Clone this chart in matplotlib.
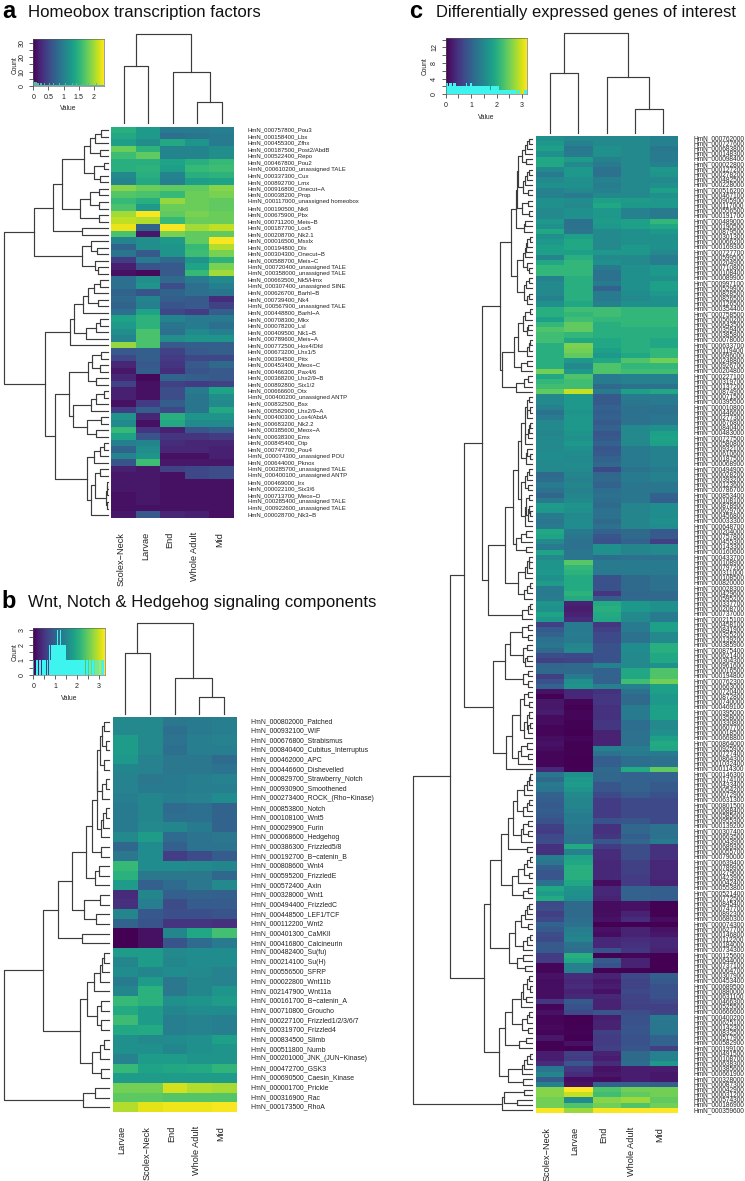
import numpy as np
import matplotlib
matplotlib.use('Agg')
import matplotlib.pyplot as plt

plt.rcParams['font.family'] = ['Liberation Sans', 'DejaVu Sans']

W, H = 745, 1181

# panel a
a_cols = ['Scolex-Neck', 'Larvae', 'End', 'Whole Adult', 'Mid']
a_labels = ['000757800_Pou3', '000158400_Lbx', '000455300_Zfhx', '000187500_Post2/AbdB', '000522400_Repo',
            '000467800_Pou2', '000610200_unassigned TALE', '000337300_Cux', '000892700_Lmx', '000916800_Onecut-A',
            '000038200_Prop', '000117000_unassigned homeobox', '000190500_Nk6', '000675900_Pbx', '000711200_Meis-B',
            '000187700_Lox5', '000208700_Nk2.1', '000016500_Msxlx', '000194800_Dlx', '000304300_Onecut-B',
            '000588700_Meis-C', '000720400_unassigned TALE', '000358000_unassigned TALE', '000663500_Nk5/Hmx',
            '000307400_unassigned SINE', '000626700_Barhl-B', '000739400_Nk4', '000567900_unassigned TALE',
            '000448800_Barhl-A', '000708300_Mkx', '000078200_Lsl', '000409500_Nk1-B', '000789600_Meis-A',
            '000772500_Hox4/Dfd', '000673200_Lhx1/5', '000394500_Pitx', '000453400_Meox-C', '000466300_Pax4/6',
            '000368200_Lhx2/9-B', '000892800_Six1/2', '000666600_Otx', '000400200_unassigned ANTP', '000832500_Bsx',
            '000582900_Lhx2/9-A', '000400300_Lox4/AbdA', '000683200_Nk2.2', '000385600_Meox-A', '000638300_Emx',
            '000845400_Otp', '000747700_Pou4', '000074300_unassigned POU', '000644000_Pknox',
            '000285700_unassigned TALE', '000400100_unassigned ANTP', '000469000_Irx', '000022100_Six3/6',
            '000713700_Meox-D', '000285400_unassigned TALE', '000922600_unassigned TALE', '000028700_Nk3-B']
a_values = [
    [1.45, 1.25, .95, .95, 1.0], [1.4, 1.25, .85, .9, .95], [1.3, 1.15, 1.4, 1.2, .95], [1.8, 1.5, 1.05, 1.05, 1.15],
    [1.6, 1.75, 1.05, 1.05, 1.15], [1.45, 1.45, 1.35, 1.45, 1.55], [1.45, 1.5, 1.3, 1.55, 1.6], [1.1, 1.45, 1.05, 1.45, 1.5],
    [1.05, 1.4, 1.0, 1.3, 1.35], [1.9, 1.8, 1.75, 1.75, 1.9], [1.7, 1.65, 1.55, 1.8, 1.85], [1.55, 1.45, 1.95, 1.8, 1.75],
    [1.65, 1.25, 1.8, 1.8, 1.75], [2.0, 2.3, 1.75, 1.85, 1.8], [2.1, 2.05, 1.55, 1.8, 1.8], [2.25, .75, 2.3, 2.0, 2.1],
    [1.65, .15, 1.85, 1.75, 1.75], [1.05, 1.15, 1.25, 1.75, 2.3], [.75, 1.15, 1.2, 1.55, 2.05], [.9, .65, 1.2, 1.6, 1.85],
    [.4, .95, .8, 1.2, 1.5], [.2, .6, .65, 1.35, 1.85], [.1, .05, .65, 1.55, 2.0], [.85, 1.15, .8, .95, 1.1],
    [.85, 1.2, .55, .85, 1.0], [.75, .6, .75, .85, .9], [.8, 1.05, .7, .65, .3], [.75, 1.0, .6, .65, .45],
    [.85, 1.35, .5, .4, .7], [1.35, 1.5, 1.05, .95, .95], [1.25, 1.5, .9, .95, .85], [1.15, 1.65, .85, 1.1, 1.0],
    [1.05, 1.65, 1.15, 1.2, 1.2], [1.95, 1.65, .65, .7, .7], [.65, .7, .45, .65, .7], [.5, .7, .4, .5, .5],
    [.25, .65, .35, .65, .8], [.15, .7, .3, .6, .65], [.25, .05, .75, .7, .65], [.45, .1, .45, .4, .45],
    [.2, .1, .55, .95, 1.35], [.2, .1, .55, .9, 1.15], [.1, .4, .7, .9, 1.1], [.4, .7, .5, .9, 1.4],
    [1.2, .25, 1.45, 1.2, 1.2], [1.1, .1, 1.4, 1.1, 1.1], [1.55, .35, .2, .6, .7], [1.35, .6, .35, .35, .4],
    [1.0, 1.05, .3, .25, .25], [.75, 1.15, .25, .25, .2], [1.05, 1.2, .1, .1, .2], [.6, 1.6, .15, .15, .15],
    [.2, .15, .45, .5, .55], [.15, .15, .1, .5, .55], [.15, .15, .1, .1, .1], [.15, .15, .1, .1, .1],
    [.1, .15, .1, .1, .1], [.1, .15, .1, .1, .1], [.1, .1, .1, .1, .1], [.15, .65, .25, .2, .1]]
# height at which neighbouring rows join, in order
a_row_gaps = [7, 13, 18, 8, 24, 4, 14, 8, 46, 9, 18, 9, 28, 9, 55, 26, 74, 17, 11, 26, 13, 10, 104,
              8, 14, 20, 10, 25, 34, 8, 12, 22, 38, 63, 7, 16, 8, 20, 12, 39, 4, 12, 17, 35, 7, 21, 12, 53,
              4, 8, 14, 21, 8, 13, 1, 1.5, 2, 1, 17]
a_col_gaps = [57, 89, 51, 21]
a_counts = [4, 3, 3, 2, 2, 1, 2, 2, 1, 1, 2, 1, 1, 1, 2, 1, 1, 1, 2, 1, 1, 1, 1, 2, 1, 1, 1, 1, 1, 2, 1, 1,
            1, 1, 1, 2, 1, 1, 1, 2, 1, 1, 1, 1, 2, 1, 1, 1, 1, 1, 2, 1, 1, 1, 1, 1, 1, 2, 1, 1, 1, 1, 1, 1]

# panel b
b_cols = ['Larvae', 'Scolex-Neck', 'End', 'Whole Adult', 'Mid']
b_labels = ['000802000_Patched', '000932100_WIF', '000676800_Strabismus', '000840400_Cubitus_Interruptus',
            '000462000_APC', '000446600_Dishevelled', '000829700_Strawberry_Notch', '000930900_Smoothened',
            '000273400_ROCK_(Rho-Kinase)', '000853800_Notch', '000108100_Wnt5', '000029900_Furin',
            '000068600_Hedgehog', '000386300_Frizzled5/8', '000192700_B-catenin_B', '000808600_Wnt4',
            '000595200_FrizzledE', '000572400_Axin', '000328000_Wnt1', '000494400_FrizzledC', '000448500_LEF1/TCF',
            '000112200_Wnt2', '000401300_CaMKII', '000416800_Calcineurin', '000482400_Su(fu)', '000214100_Su(H)',
            '000556500_SFRP', '000022800_Wnt11b', '002147900_Wnt11a', '000161700_B-catenin_A', '000710800_Groucho',
            '000227100_Frizzled1/2/3/6/7', '000319700_Frizzled4', '000834500_Slimb', '000511800_Numb',
            '000201000_JNK_(JUN-Kinase)', '000472700_GSK3', '000690500_Caesin_Kinase', '000001700_Prickle',
            '000316900_Rac', '000173500_RhoA']
b_values = [
    [1.55, 1.55, 1.3, 1.35, 1.4], [1.55, 1.55, 1.2, 1.35, 1.4], [1.8, 1.55, 1.25, 1.4, 1.45], [1.8, 1.55, 1.2, 1.4, 1.4],
    [1.75, 1.45, 1.3, 1.3, 1.15], [1.5, 1.45, 1.3, 1.3, 1.25], [1.45, 1.3, 1.35, 1.4, 1.45], [1.45, 1.35, 1.35, 1.4, 1.4],
    [1.4, 1.5, 1.4, 1.45, 1.6], [1.35, 1.5, 1.15, 1.2, 1.05], [1.35, 1.5, 1.2, 1.2, 1.05], [1.35, 1.55, 1.5, 1.35, 1.05],
    [1.55, 1.8, 1.15, 1.25, 1.3], [1.1, 1.6, 1.0, 1.25, 1.25], [1.3, 1.6, .6, .75, .95], [2.2, 1.6, 1.6, 1.55, 1.5],
    [2.1, 1.3, 1.3, 1.3, 1.1], [1.8, 1.0, 1.15, 1.3, 1.55], [.4, 1.5, 1.0, 1.05, 1.0], [.45, 1.4, .75, .95, .95],
    [1.5, .9, .8, .8, .85], [1.05, .85, .5, .5, .45], [0, .15, 1.5, 1.95, 2.3], [0, .15, .85, 1.15, 1.35],
    [1.8, 1.8, 1.55, 1.6, 1.6], [1.5, 1.8, 1.5, 1.6, 1.6], [1.6, 1.5, 1.6, 1.55, 1.45], [1.35, 1.8, 1.3, 1.5, 1.45],
    [1.5, 2.1, 1.3, 1.5, 1.7], [2.2, 2.1, 1.65, 1.7, 1.8], [2.0, 1.8, 1.5, 1.6, 1.6], [2.25, 1.8, 1.4, 1.45, 1.4],
    [1.95, 2.0, 1.4, 1.45, 1.4], [1.65, 1.55, 1.6, 1.65, 1.85], [1.65, 1.65, 1.5, 1.65, 1.7], [1.45, 1.8, 1.8, 1.7, 1.7],
    [2.2, 1.9, 1.95, 2.0, 2.15], [1.8, 1.8, 1.8, 1.8, 1.8], [2.6, 2.6, 3.05, 2.9, 2.85], [2.45, 2.45, 2.4, 2.4, 2.4],
    [2.9, 3.15, 3.2, 3.2, 3.25]]
b_row_gaps = [4.7, 7, 3, 9, 4.7, 11.7, 3, 7.3, 12, 3.3, 5.7, 8, 17.3, 8, 23, 10, 14, 37.3, 9, 25, 13, 50.7, 27.3, 66.3,
              5, 7, 9, 15, 22, 8, 12, 8, 29, 5, 9, 17, 8, 104.7, 14, 26]
b_col_gaps = [60.7, 90.4, 36, 16.4]
b_counts = [1, 0, 1, 1, 0, 1, 1, 0, 1, 1, 1, 0, 1, 0, 2, 1, 2, 2, 2, 2, 2, 3, 2, 2, 3, 2, 2, 2, 2, 1, 1, 1,
            1, 1, 1, 1, 1, 1, 1, 1, 1, 1, 1, 1, 1, 1, 0, 1, 1, 0, 1, 1, 0, 1, 0, 1, 1, 0, 1, 0, 0, 1, 1, 0]

# panel c
c_cols = ['Scolex-Neck', 'Larvae', 'End', 'Whole Adult', 'Mid']
c_labels = ['000762000', '000727600', '000683800', '000148300', '000098400', '000022800', '000127200', '000278200',
            '000482500', '000228000', '000516200', '000467100', '000905900', '000117000', '000556500', '000191700',
            '000489000', '000190500', '000879500', '000301300', '000066200', '000169300', '000727700', '000599500',
            '000204900', '000710800', '000108400', '000089900', '000997100', '000529900', '000828500', '000826500',
            '000126500', '000354400', '000758500', '000560200', '000643500', '000359400', '000385800', '000078000',
            '000633700', '000119400', '000696000', '000248800', '000926700', '000204800', '000227100', '000319700',
            '000137200', '000874900', '000071500', '000395500', '000010800', '000446600', '000277300', '000676800',
            '000840400', '000483000', '000727500', '000580800', '000932100', '000610600', '000187500', '000068900',
            '000494900', '000028200', '000393200', '000123600', '000786700', '000853400', '000108100', '000878900',
            '000629700', '000456800', '000033300', '000648700', '000204000', '000757800', '000455300', '000143300',
            '000160600', '000433700', '000108900', '000797200', '000311000', '000108500', '000820000', '000028300',
            '000429600', '000595200', '000337700', '000208700', '000737000', '000215100', '000458100', '000841900',
            '000355200', '000139200', '000385900', '000875400', '000621400', '000304300', '000961600', '000016500',
            '000194800', '000762300', '000663000', '000720400', '000872800', '000740000', '000469100', '000395000',
            '000358000', '000330800', '000607700', '000018500', '000668800', '000864000', '000925900', '000727400',
            '000864300', '001032400', '000114300', '000146300', '000174100', '000433400', '000054200', '000072900',
            '000631300', '000801500', '000688400', '000585600', '000955300', '000139200', '000307400', '000663500',
            '000043900', '000689300', '000055700', '000790000', '000639400', '000789900', '000279600', '000423900',
            '000042400', '000553800', '000521400', '000772500', '000845400', '000747700', '000892300', '000680300',
            '000074300', '000627700', '000146800', '000112200', '000184000', '000734300', '000125600', '000644000',
            '000737100', '000064700', '000307900', '000453400', '000689500', '000880000', '000631100', '000466300',
            '000525500', '000666600', '000400200', '000625100', '000142300', '000832500', '000517900', '000582900',
            '000199100', '000491500', '000108700', '000638300', '000385600', '000661900', '000328000', '000087300',
            '000042900', '000031200', '000574300', '000186900', '000359600']
c_values = [
    [1.6, 1.5, 1.5, 1.5, 1.4], [1.7, 1.4, 1.5, 1.5, 1.4], [1.8, 1.25, 1.6, 1.5, 1.25], [1.6, 1.3, 1.6, 1.5, 1.3],
    [1.9, 1.75, 1.4, 1.5, 1.3], [1.9, 1.5, 1.3, 1.5, 1.4], [1.5, 1.7, 1.2, 1.5, 1.7], [1.3, 1.7, 1.2, 1.5, 1.65],
    [1.5, 1.6, 1.4, 1.5, 1.5], [1.6, 1.6, 1.35, 1.5, 1.6], [1.4, 1.5, 1.4, 1.5, 1.8], [1.4, 1.3, 1.5, 1.5, 1.6],
    [1.6, 1.55, 1.8, 1.75, 1.7], [1.6, 1.5, 1.9, 1.7, 1.7], [1.5, 1.6, 1.7, 1.4, 1.3], [1.5, 1.6, 1.7, 1.4, 1.3],
    [1.7, 1.2, 1.75, 1.8, 2.1], [1.6, 1.2, 1.7, 1.8, 1.9], [1.9, 1.25, 1.5, 1.6, 1.7], [1.6, 1.8, 1.5, 1.6, 1.6],
    [1.7, 1.9, 1.5, 1.6, 1.6], [1.8, 1.9, 1.5, 1.7, 1.6], [1.8, 1.8, 1.7, 1.7, 1.5], [1.45, 2.0, 1.5, 1.5, 1.35],
    [1.9, 2.1, 1.6, 1.5, 1.35], [2.1, 2.1, 1.3, 1.6, 1.7], [2.1, 2.1, 1.2, 1.6, 1.7], [1.4, 2.0, 1.2, 1.6, 1.6],
    [1.5, 2.0, 1.3, 1.6, 1.8], [1.5, 2.0, 1.0, 1.6, 1.8], [1.5, 2.0, 1.3, 1.55, 1.7], [1.4, 2.0, 1.3, 1.5, 1.6],
    [1.6, 1.9, 1.4, 1.6, 1.6], [2.0, 2.2, 2.2, 2.1, 2.1], [2.0, 2.1, 2.2, 2.1, 2.1], [1.8, 2.2, 2.1, 2.1, 2.1],
    [2.1, 2.4, 2.0, 2.1, 2.1], [2.3, 2.4, 2.0, 2.0, 2.0], [2.2, 2.1, 2.0, 2.0, 2.0], [2.2, 1.9, 1.9, 2.0, 1.9],
    [2.0, 2.55, 1.9, 2.0, 1.9], [2.0, 2.5, 1.8, 2.0, 2.1], [2.0, 2.4, 1.7, 1.9, 2.1], [2.0, 1.7, 1.9, 2.3, 2.5],
    [2.0, 1.5, 2.3, 2.1, 2.1], [2.5, 1.7, 2.3, 2.2, 2.2], [1.9, 2.3, 1.3, 1.4, 1.4], [2.1, 2.2, 1.3, 1.4, 1.4],
    [2.2, 2.2, 1.1, 1.2, 1.2], [2.4, 2.9, 1.3, 1.8, 1.9],
    [1.5, 1.7, .9, 1.3, 1.3], [1.5, 1.7, .9, 1.25, 1.3], [1.4, 1.7, 1.0, 1.2, 1.2], [1.2, 1.65, .95, 1.2, 1.2],
    [1.3, 1.7, 1.0, 1.2, 1.25], [1.5, 1.7, .9, 1.2, 1.25], [1.5, 1.7, 1.0, 1.5, 1.6], [1.45, 1.65, .85, 1.5, 1.8],
    [1.5, 1.6, .9, 1.5, 1.85], [1.5, 1.7, 1.0, 1.5, 1.8], [1.5, 1.6, .85, 1.3, 1.4], [1.55, 1.55, .9, 1.3, 1.4],
    [1.55, 1.5, 1.0, 1.3, 1.4], [1.5, 1.55, 1.1, 1.3, 1.4], [1.5, 1.5, .7, 1.2, 1.3], [1.1, 1.45, 1.05, 1.3, 1.4],
    [1.15, 1.4, 1.1, 1.3, 1.4], [1.3, 1.45, 1.0, 1.25, 1.25], [1.2, 1.4, 1.15, 1.25, 1.25], [1.05, 1.45, 1.2, 1.25, 1.0],
    [1.3, 1.5, 1.15, 1.25, .95], [1.75, 1.65, 1.1, 1.45, 1.55], [1.7, 1.6, 1.2, 1.45, 1.55], [1.3, 1.5, 1.2, 1.45, 1.55],
    [1.25, 1.55, 1.1, 1.45, 1.6], [1.3, 1.55, 1.2, 1.45, 1.55], [1.9, 1.3, 1.0, 1.1, .9], [1.85, 1.25, .85, 1.1, .9],
    [1.5, 1.2, .8, 1.0, .6], [1.3, 1.2, 1.6, 1.45, 1.5], [1.85, 1.25, 1.6, 1.45, 1.5], [1.5, 1.25, 1.15, 1.2, 1.2],
    [1.65, 2.35, 1.3, 1.3, 1.3], [1.65, 2.1, 1.3, 1.3, 1.3], [1.7, 2.05, 1.3, 1.3, 1.3], [1.6, 1.95, .8, 1.1, 1.2],
    [1.75, 1.95, .8, 1.1, 1.2], [1.3, 1.95, .8, 1.1, 1.2], [1.3, 2.05, .5, 1.05, 1.1], [1.35, 1.95, .9, 1.1, 1.1],
    [1.65, .3, 1.95, 1.7, 1.6], [1.6, .25, 2.0, 1.7, 1.6], [1.85, .3, 1.95, 1.5, 1.3], [1.7, .4, 1.9, 1.5, 1.3],
    [.6, 1.3, .5, 1.3, 1.8], [.9, 1.3, .6, 1.3, 1.8], [1.0, 1.35, .7, 1.2, 1.5], [1.2, 1.3, .7, 1.2, 1.5],
    [1.25, 1.45, .8, 1.55, 2.0], [1.1, 1.5, .8, 1.55, 2.0], [.75, .7, .8, 1.5, 1.9], [.6, .65, .8, 1.5, 1.9],
    [1.05, 1.1, 1.4, 1.5, 1.6], [1.1, 1.1, 1.0, 1.9, 2.3], [.6, 1.3, 1.0, 1.9, 2.3], [.8, 1.6, 1.0, 2.2, 2.5],
    [1.0, 1.65, 1.4, 1.4, 1.8], [.15, .35, .45, 1.2, 1.8], [.02, .35, .5, 1.1, 1.7], [.2, .05, .5, 1.1, 1.7],
    [.2, .02, .45, 1.3, 1.8], [.25, .05, .45, 1.3, 1.8], [.1, .05, .45, 1.3, 1.8], [.1, .02, .5, 1.15, 1.5],
    [.05, .02, .5, 1.15, 1.5], [.05, 0, .3, 1.2, 1.6], [.12, .05, .3, 1.2, 1.8], [.15, .02, .3, 1.2, 1.95],
    [.1, .02, 1.4, 1.35, 1.9], [.05, .02, 1.2, 1.3, 1.3], [.05, 0, .95, 1.15, 1.2], [.05, 0, .95, 1.15, 1.2],
    [.35, .02, 1.1, 1.95, 2.4], [1.25, 1.6, 1.05, 1.0, 1.0], [1.1, 1.7, 1.05, 1.0, 1.0], [1.3, 1.75, .85, 1.0, .9],
    [1.25, 1.65, .85, 1.0, .9], [1.0, 1.5, .7, .9, .8], [.95, 1.45, .55, .7, .7], [.9, 1.45, .55, .7, .7],
    [.95, 1.4, .55, .7, .7], [.9, 1.3, .55, .7, .7], [.8, 1.35, .8, .85, .7], [.6, 1.25, .45, 1.05, 1.2],
    [.55, 1.25, .45, 1.05, 1.2], [.7, 1.2, .5, .95, 1.2], [.75, 1.2, .85, 1.05, 1.3], [.45, 1.95, .55, .75, .45],
    [.45, 1.4, .4, .75, .45], [1.35, 1.85, .4, .75, .45], [1.25, 1.9, .35, .6, .35], [.95, 2.0, .35, .6, .35],
    [.85, 2.0, .35, .6, .35], [.85, 2.0, .35, .55, .35], [1.2, 1.9, .1, .55, .3], [1.9, 1.65, .35, 1.0, .95],
    [1.75, 1.6, .35, 1.0, .95], [1.95, 1.55, .3, 1.0, .95], [.7, 1.1, .1, .15, .02], [.75, 1.1, .1, .15, .02],
    [.6, 1.1, .12, .3, .02], [.7, 1.15, .15, .4, .1], [1.0, 1.2, 0, 0, 0], [.9, 1.35, .15, .3, .15],
    [.75, 1.4, .1, .3, .2], [.7, 1.45, .35, .4, .35], [.9, 1.2, .35, .45, .35], [.9, 1.15, .8, .5, .3],
    [.55, 2.0, 0, .05, 0], [.55, 1.9, .9, .3, 0], [.05, 1.4, .8, .3, 0], [.05, 1.4, .02, .02, 0],
    [.15, .4, .3, .7, .95], [.1, .35, .2, .65, .9], [.12, .4, .25, .65, .8], [.12, .3, .15, .7, .8],
    [.12, .35, .35, .65, .8], [.5, .9, .3, .65, .7], [.05, .8, .3, .6, .6], [.15, .7, .85, .75, .65],
    [.05, 0, .25, .8, 1.3], [.05, 0, .3, .8, 1.25], [.08, .02, .3, .85, 1.25], [.05, .03, .6, .85, 1.25],
    [.2, 0, .55, .8, 1.0], [.02, .15, .55, .8, 1.0], [.02, 0, .6, .85, .6], [.25, .6, .3, 1.1, 1.4],
    [.25, .55, .25, 1.1, 1.4], [.4, .85, .4, 1.15, 1.7], [1.25, .5, .15, .25, .25], [1.45, .4, .2, .25, .2],
    [.9, .1, .1, .25, .2], [1.4, .15, 1.0, 1.0, .95], [2.6, 3.2, 2.3, 2.5, 2.5], [2.6, 2.9, 2.2, 2.4, 2.5],
    [2.5, 1.55, 2.6, 2.7, 2.4], [2.5, 2.3, 2.5, 2.3, 2.5], [3.15, 2.7, 3.15, 3.2, 3.2]]
c_row_gaps = [3, 5, 7, 10, 6, 13.5, 3, 5, 7, 8.5, 4, 14.3, 4, 10, 3, 15.7, 7, 8, 21,
              1.5, 5, 6, 7, 9, 5, 3, 14.3, 3, 6, 8, 3, 5, 31.7,
              2, 7, 9, 4, 5, 14, 2, 3, 5, 17.7, 5, 11, 30, 4, 7.5, 16, 50,
              3, 5, 2, 5, 7, 2, 3, 4, 7, 10.7, 5, 2, 6, 14, 3, 5, 7, 4, 11, 3, 6, 3, 1.5, 4, 7, 19,
              6, 11, 16, 6, 26.7, 3, 3, 5, 7, 13.3, 2, 5, 8, 43.3, 2, 4, 10, 67.3,
              4, 10, 4, 22, 5, 9, 5, 7, 27, 4, 9, 4, 39,
              4, 8, 3, 12, 3, 5, 2, 4, 8, 20, 5, 11, 4, 14, 26, 82,
              2, 3, 5, 8, 15, 3, 5, 9, 19, 4, 9, 4, 11, 23.3, 5, 31, 2, 5, 8, 3, 14, 20, 4, 9, 41.7,
              3, 5, 7, 11, 4, 17, 2, 5, 9, 23, 9, 15, 7, 47.7,
              3, 5, 2, 9, 6, 11, 20, 3, 5, 10, 4, 27, 6, 13, 33, 2, 5, 8, 10, 24, 9, 119, 8, 28, 15, 30]
c_col_gaps = [59.4, 99.4, 55.4, 23.4]
c_counts = [3, 3, 2, 3, 3, 2, 3, 3, 2, 2, 2, 2, 2, 2, 2, 2, 3, 2, 2, 3, 3, 2, 2, 2, 2, 2, 2, 2, 2, 2, 2, 2,
            2, 2, 2, 1, 2, 2, 2, 2, 2, 2, 1, 1, 1, 1, 1, 1, 1, 1, 1, 1, 1, 1, 1, 1, 0, 1, 1, 0, 0, 0, 1, 1]


def px_axes(fig, x0, y0, x1, y1):
    return fig.add_axes([x0 / W, 1 - y1 / H, (x1 - x0) / W, (y1 - y0) / H])


def tree(ax, gaps, lo, hi, rows):
    # returns centre and height of the cluster holding leaves lo..hi
    if lo == hi:
        return lo + 0.5, 0
    k = lo + int(np.argmax(gaps[lo:hi]))
    p1, h1 = tree(ax, gaps, lo, k, rows)
    p2, h2 = tree(ax, gaps, k + 1, hi, rows)
    h = gaps[k]
    xs, ys = [h1, h, h, h2], [p1, p1, p2, p2]
    if rows:
        ax.plot(xs, ys, color='#3c3c3c', lw=0.85, solid_capstyle='projecting', clip_on=False)
    else:
        ax.plot(ys, xs, color='#3c3c3c', lw=0.85, solid_capstyle='projecting', clip_on=False)
    return (p1 + p2) / 2, h


def draw_panel(fig, values, labels, cols, row_gaps, col_gaps, heat_box, row_x, col_y, label_x, label_size,
               col_label_y, col_shift, vmax):
    x0, y0, x1, y1 = heat_box
    values = np.array(values)
    n = len(labels)
    assert values.shape == (n, 5) and len(row_gaps) == n - 1, (values.shape, n, len(row_gaps))
    ax = px_axes(fig, x0, y0, x1, y1)
    ax.imshow(values, cmap='viridis', vmin=0, vmax=vmax, aspect='auto', interpolation='nearest',
              extent=(0, 5, n, 0))
    ax.axis('off')

    rd = px_axes(fig, row_x[0], y0, row_x[1], y1)
    rd.set_xlim(max(row_gaps), 0)
    rd.set_ylim(n, 0)
    rd.axis('off')
    tree(rd, row_gaps, 0, n - 1, True)

    cd = px_axes(fig, x0, col_y[0], x1, col_y[1])
    cd.set_xlim(0, 5)
    cd.set_ylim(0, max(col_gaps))
    cd.axis('off')
    tree(cd, col_gaps, 0, 4, False)

    row_h = (y1 - y0) / n
    for i, lab in enumerate(labels):
        fig.text(label_x / W, 1 - (y0 + (i + 0.5) * row_h) / H, 'HmN_' + lab.replace('-', '\u2212'),
                 fontsize=label_size, va='center', ha='left', color='#222222')
    cw = (x1 - x0) / 5
    for j, lab in enumerate(cols):
        fig.text((x0 + (j + 0.5) * cw + col_shift) / W, 1 - col_label_y / H, lab.replace('-', '\u2212'),
                 rotation=90, fontsize=6.6, ha='center', va='top', color='#222222')


def draw_key(fig, box, counts, xmax, ymax, xticks, xlabels, yticks, ylabels, minor_y, hist_color, ylabel_y, count_x,
             value_y):
    ax = px_axes(fig, *box)
    grad = np.linspace(0, 1, 256).reshape(1, -1)
    ax.imshow(grad, cmap='viridis', aspect='auto', extent=(0, xmax, 0, ymax), zorder=1)
    bins = np.linspace(0, xmax, len(counts) + 1)
    ax.stairs(counts, bins, fill=True, color=hist_color, zorder=2)
    ax.set_xlim(0, xmax)
    ax.set_ylim(0, ymax)
    ax.set_xticks(xticks)
    ax.set_xticklabels(xlabels, fontsize=5.1, color='#222222')
    ax.set_yticks(yticks)
    ax.set_yticklabels(ylabels, fontsize=5.1, rotation=90, va='center', color='#222222')
    ax.set_yticks(minor_y, minor=True)
    ax.tick_params(which='both', length=3, width=0.5, pad=2.5, color='#222222')
    for s in ax.spines.values():
        s.set_linewidth(0.4)
        s.set_color('#555555')
    fig.text((box[0] + box[2]) / 2 / W, 1 - value_y / H, 'Value', fontsize=4.8, ha='center', va='center',
             color='#222222')
    fig.text(count_x / W, 1 - ylabel_y / H, 'Count', fontsize=4.8, rotation=90, ha='center', va='center',
             color='#222222')


fig = plt.figure(figsize=(W / 100, H / 100), dpi=100)

draw_panel(fig, a_values, a_labels, a_cols, a_row_gaps, a_col_gaps, (111.3, 127, 234.3, 518.3), (4.3, 108.3),
           (34.3, 123.3), 248, 4.3, 532, -2.6, 2.32)
draw_panel(fig, b_values, b_labels, b_cols, b_row_gaps, b_col_gaps, (112.7, 716.7, 236.3, 1112), (4.3, 109),
           (623.3, 713.7), 250, 4.95, 1126, -3, 3.28)
draw_panel(fig, c_values, c_labels, c_cols, c_row_gaps, c_col_gaps, (536, 136, 677.5, 1113), (412.7, 531.7),
           (33.3, 132.7), 693.5, 4.7, 1126.7, -3.3, 3.18)

draw_key(fig, (33.3, 39, 103.7, 86), a_counts, 2.32, 32.5, [0, 0.5, 1, 1.5, 2], ['0', '0.5', '1', '1.5', '2'],
         [0, 10, 20, 30], ['0', '10', '20', '30'], [5, 15, 25], '#5cb5a5', 65, 15, 109)
draw_key(fig, (33.3, 627.7, 104.7, 675.3), b_counts, 3.28, 3.12, [0, 0.5, 1, 1.5, 2, 2.5, 3],
         ['0', '', '1', '', '2', '', '3'], [0, 1, 2, 3], ['0', '1', '2', '3'], [0.5, 1.5, 2.5], '#3df5ee', 651.7, 15,
         698.7)
draw_key(fig, (445.7, 37.7, 526.7, 94.3), c_counts, 3.18, 14.5, [0, 0.5, 1, 1.5, 2, 2.5, 3],
         ['0', '', '1', '', '2', '', '3'], [0, 4, 8, 12], ['0', '4', '8', '12'], [2, 6, 10, 14], '#3df5ee', 66, 425,
         117.7)

# panel letters and titles
fig.text(2 / W, 1 - 17.5 / H, 'a', fontsize=17, fontweight='bold', va='baseline')
fig.text(28 / W, 1 - 17.5 / H, 'Homeobox transcription factors', fontsize=12.1, va='baseline', color='#111111')
fig.text(1 / W, 1 - 607.5 / H, 'b', fontsize=17, fontweight='bold', va='baseline')
fig.text(28 / W, 1 - 607.5 / H, 'Wnt, Notch & Hedgehog signaling components', fontsize=12.1, va='baseline',
         color='#111111')
fig.text(409 / W, 1 - 17.5 / H, 'c', fontsize=17, fontweight='bold', va='baseline')
fig.text(436 / W, 1 - 17.5 / H, 'Differentially expressed genes of interest', fontsize=11.85, va='baseline',
         color='#111111')

fig.savefig('out.png', dpi=100)
